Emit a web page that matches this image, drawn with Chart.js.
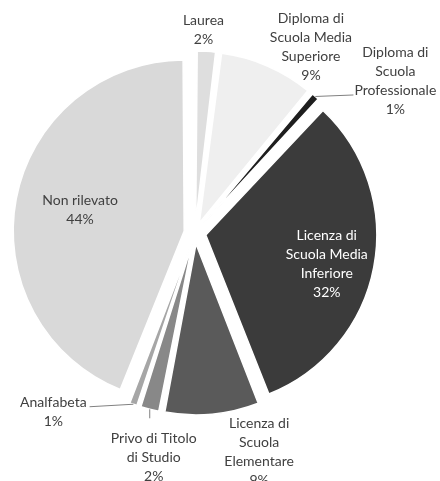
<!DOCTYPE html>
<html>
<head>
<meta charset="utf-8">
<script src="https://cdn.jsdelivr.net/npm/chart.js@4.4.1/dist/chart.umd.min.js"></script>
<style>
  html, body { margin:0; padding:0; background:#fff; }
  canvas { display:block; }
</style>
</head>
<body>
<canvas id="pie" width="440" height="481"></canvas>
<script>
// Titolo di studio — pie, slices exploded
const categories = [
  'Laurea',
  'Diploma di Scuola Media Superiore',
  'Diploma di Scuola Professionale',
  'Licenza di Scuola Media Inferiore',
  'Licenza di Scuola Elementare',
  'Privo di Titolo di Studio',
  'Analfabeta',
  'Non rilevato',
];
const shares = [2, 9, 1, 32, 9, 2, 1, 44];
const labelLines = [
  ['Laurea'],
  ['Diploma di', 'Scuola Media', 'Superiore'],
  ['Diploma di', 'Scuola', 'Professionale'],
  ['Licenza di', 'Scuola Media', 'Inferiore'],
  ['Licenza di', 'Scuola', 'Elementare'],
  ['Privo di Titolo', 'di Studio'],
  ['Analfabeta'],
  ['Non rilevato'],
];
const COLORS = ['#dedede','#efefef','#1e1e1e','#3b3b3b','#5a5a5a','#888888','#a6a6a6','#d9d9d9'];

const R = 171;          // pie radius
const EXPLODE = 11;     // px each slice is pulled out
const LINE_H = 19;
const FONT = '14px Lato, "Open Sans", sans-serif';

// label placement: k = fraction of radius along the slice mid-angle, dx/dy nudges,
// lead = leader line style
const labelPos = [
  { k: 1.19, dx: -5, dy: 11 },
  { k: 1.26, dx: 26, dy: 22 },
  { k: 1.0, dx: 80, dy: -15, lead: 'h' },
  { k: 0.72, dx: 0, dy: 6, color: '#ffffff' },
  { k: 1.0, dx: 47, dy: 38 },
  { k: 1.0, dx: 4, dy: 48, lead: 'v' },
  { k: 1.0, dx: -80, dy: 8, lead: 'h' },
  { k: 0.62, dx: 0, dy: -1 },
];

const pct = (v) => Math.round(v / shares.reduce((s, x) => s + x, 0) * 100) + '%';

// Chart.js v4 grows small/large arcs by offset*fix when exploded; keep all slices at R
const evenRadius = {
  id: 'evenRadius',
  beforeDatasetsDraw(chart) {
    chart.getDatasetMeta(0).data.forEach(arc => {
      const o = (arc.options.offset || 0) / 4;
      const fix = 1 - Math.sin(Math.min(Math.PI, arc.circumference));
      arc.outerRadius = R - o * fix;
    });
  }
};

const sliceLabels = {
  id: 'sliceLabels',
  afterDatasetsDraw(chart) {
    const ctx = chart.ctx;
    const arcs = chart.getDatasetMeta(0).data;
    ctx.save();
    ctx.font = FONT;
    ctx.textAlign = 'center';
    ctx.textBaseline = 'middle';
    arcs.forEach((arc, i) => {
      const mid = (arc.startAngle + arc.endAngle) / 2;
      const ux = Math.cos(mid), uy = Math.sin(mid);
      const cx = arc.x + ux * EXPLODE, cy = arc.y + uy * EXPLODE;
      const p = labelPos[i];
      const lx = cx + ux * R * p.k + p.dx;
      const ly = cy + uy * R * p.k + p.dy;
      const lines = labelLines[i].concat(pct(shares[i]));
      const top = ly - (lines.length - 1) * LINE_H / 2;

      if (p.lead) {
        const ex = cx + ux * R, ey = cy + uy * R;
        ctx.strokeStyle = '#808080';
        ctx.lineWidth = 1;
        ctx.beginPath();
        ctx.moveTo(ex, ey);
        if (p.lead === 'h') {
          // run to the near edge of the last text line above the percentage
          const w = ctx.measureText(lines[lines.length - 2]).width;
          const row = top + (lines.length - 2) * LINE_H + 4;
          const tx = ex < lx ? lx - w / 2 - 1 : lx + w / 2 + 3;
          ctx.lineTo(tx, row);
        } else {
          ctx.lineTo(ex, top - 20);
        }
        ctx.stroke();
      }

      ctx.fillStyle = p.color || '#404040';
      lines.forEach((t, j) => ctx.fillText(t, lx, top + j * LINE_H));
    });
    ctx.restore();
  }
};

new Chart(document.getElementById('pie'), {
  type: 'pie',
  data: {
    labels: categories,
    datasets: [{
      data: shares,
      backgroundColor: COLORS,
      borderColor: '#ffffff',
      borderWidth: 1.5,
      offset: EXPLODE * 4,
      hoverOffset: 0,
    }]
  },
  options: {
    responsive: false,
    animation: false,
    radius: R,
    layout: { padding: { left: 0, right: 50, top: 0, bottom: 15 } },
    plugins: {
      legend: { display: false },
      tooltip: { enabled: false },
    },
  },
  plugins: [evenRadius, sliceLabels],
});
</script>
</body>
</html>
